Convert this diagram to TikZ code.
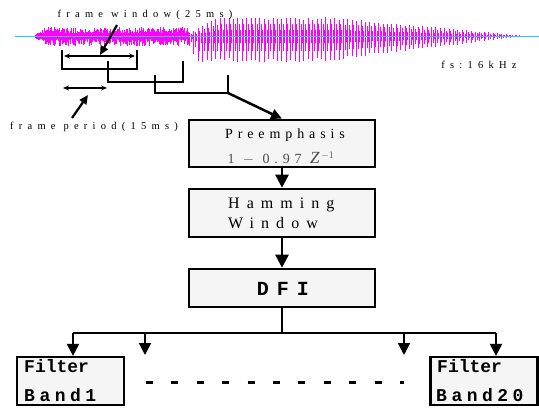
\documentclass[tikz,border=0pt]{standalone}
\usepackage{fontspec}
\setmainfont{Liberation Serif}
\newfontfamily\spaced{Liberation Serif}[LetterSpace=50]
\newfontfamily\spacedpre{Liberation Serif}[LetterSpace=35]
\newfontfamily\spacedham{Liberation Serif}[LetterSpace=44]
\newfontfamily\monob{Liberation Mono}[LetterSpace=0]
\newfontfamily\monobs{Liberation Mono}[LetterSpace=25]
\newfontfamily\monobd{Liberation Mono}[LetterSpace=40]
\definecolor{wavemag}{RGB}{255,0,255}
\definecolor{wavecyan}{RGB}{40,200,255}
\usetikzlibrary{arrows.meta}
\tikzset{
  wave/.style={wavemag, line width=0.8pt},
  procbox/.style={draw, line width=2.5pt, fill=black!4, minimum width=186pt, inner sep=0pt},
  bandbox/.style={draw, line width=2.2pt, fill=black!4, minimum width=107pt, minimum height=48pt, inner sep=0pt},
  bracket/.style={line width=2pt, line cap=butt, line join=miter},
  thinarrow/.style={line width=1.3pt, {Stealth[length=6pt,width=5pt]}-{Stealth[length=6pt,width=5pt]}},
  pointer/.style={line width=2.2pt, -{Triangle[length=9pt,width=8pt]}},
  flow/.style={line width=2.5pt, -{Triangle[length=13pt,width=13pt]}},
  busarrow/.style={line width=2pt, -{Triangle[length=12pt,width=12pt]}},
  lbl/.style={inner sep=0pt, font=\spaced\fontsize{10.5pt}{12pt}\selectfont},
  hamtxt/.style={inner sep=0pt, anchor=base west, font=\spacedham\fontsize{16pt}{18pt}\selectfont},
  bandtxt/.style={inner sep=0pt, anchor=base west, font=\monob\bfseries\fontsize{18pt}{18pt}\selectfont},
  bandtxts/.style={inner sep=0pt, anchor=base west, font=\monobs\bfseries\fontsize{18pt}{18pt}\selectfont},
}
\begin{document}
\begin{tikzpicture}[x=1pt,y=-1pt]
\useasboundingbox (0,0) rectangle (539,409);
% ---- waveform
\pgfmathsetseed{7}
\foreach \x in {33,34,...,188}{
  \pgfmathsetmacro\e{min(1,(\x-33)/10)}
  \pgfmathsetmacro\t{36-\e*(3+6*rnd)}
  \pgfmathsetmacro\b{36+\e*(3+7*rnd)}
  \draw[wave] (\x,\t) -- (\x,\b);
}
\foreach \k in {0,...,77}{
  \pgfmathsetmacro\x{185+4.4*\k}
  \pgfmathsetmacro\up{min(1,(\x-183)/35)*min(1,(525-\x)/190)}
  \pgfmathsetmacro\dn{min(1,(\x-183)/15)*min(1,(525-\x)/200)}
  \pgfmathsetmacro\ra{0.85+0.15*rnd}
  \pgfmathsetmacro\rb{0.85+0.15*rnd}
  \draw[wave] (\x,36-19*\up*\ra) -- (\x,36+26*\dn*\rb);
  \draw[wave] (\x+1.6,36-12*\up) -- (\x+1.6,36+15*\dn);
  \draw[wave] (\x+2.8,36-6*\up) -- (\x+2.8,36+7*\dn);
}
\draw[wavecyan, line width=0.9pt] (15,36) -- (539,36);
% ---- labels
\node[lbl] (fw) at (145,15) {frame window(25ms)};
\node[lbl] (fp) at (94,127) {frame period(15ms)};
\node[lbl] (fs) at (479,65) {fs:16kHz};
% ---- brackets
\draw[bracket] (62,50) -- (62,69) -- (137,69) -- (137,50);
\draw[bracket] (108,61) -- (108,82) -- (183,82) -- (183,61);
\draw[bracket] (155,75) -- (155,93) -- (228,93) -- (228,75);
\coordinate (b3) at (228,93);
\coordinate (w1) at (64,56); \coordinate (w2) at (135,56);
\draw[thinarrow] (w1) -- (w2);
\coordinate (p1) at (63,88); \coordinate (p2) at (107,88);
\draw[thinarrow] (p1) -- (p2);
\coordinate (fwa) at (117,25); \coordinate (fwt) at (100,55);
\draw[pointer] (fwa) -- (fwt);
\coordinate (fpa) at (72,118); \coordinate (fpt) at (88,95);
\draw[pointer] (fpa) -- (fpt);
% ---- processing boxes
\node[procbox, minimum height=47pt] (pre) at (282,143.5) {};
\node[inner sep=0pt, anchor=base, font=\spacedpre\fontsize{14pt}{16pt}\selectfont] (pret) at (285,139) {Preemphasis};
\node[inner sep=0pt, anchor=base, text=black!70, font=\spacedpre\fontsize{14pt}{16pt}\selectfont] (pref) at (281,164) {1 $-$ 0.97 {\fontsize{17pt}{17pt}\selectfont\itshape Z}$^{\,-1}$};
\node[procbox, minimum height=48pt] (ham) at (282,213) {};
\node[hamtxt] (hamt) at (228,209) {Hamming};
\node[hamtxt] (hamw) at (228,229) {Window};
\node[procbox, minimum height=38pt] (dft) at (282,288) {};
\node[inner sep=0pt, anchor=base, font=\monobd\bfseries\fontsize{20pt}{20pt}\selectfont] (dftt) at (283,295) {DFI};
\draw[pointer, line width=2.5pt, -{Triangle[length=11pt,width=10pt]}] (b3) -- (pre.north);
\draw[flow] (pre.south) -- (ham.north);
\draw[flow] (ham.south) -- (dft.north);
% ---- filter bank
\node[bandbox] (f1) at (70.5,381) {};
\node[bandbox] (f20) at (484,381) {};
\node[bandtxt] (f1a) at (24,373) {Filter};
\node[bandtxts] (f1b) at (24,401) {Band1};
\node[bandtxt] (f20a) at (437,373) {Filter};
\node[bandtxts] (f20b) at (436,401) {Band20};
\coordinate (split) at (282,333);
\coordinate (a1) at (73,333); \coordinate (a2) at (145,333);
\coordinate (a3) at (404,333); \coordinate (a4) at (496,333);
\coordinate (e2) at (145,355); \coordinate (e3) at (404,355);
\draw[line width=2pt] (dft.south) -- (split);
\draw[line width=2pt] (a1) -- (a4);
\draw[busarrow] (a1) -- (a1 |- f1.north);
\draw[busarrow] (a2) -- (e2);
\draw[busarrow] (a3) -- (e3);
\draw[busarrow] (a4) -- (a4 |- f20.north);
\coordinate (d1) at (146,382); \coordinate (d2) at (404,382);
\draw[line width=3pt, dash pattern=on 7pt off 18.4pt] (d1) -- (d2);
\end{tikzpicture}
\end{document}
